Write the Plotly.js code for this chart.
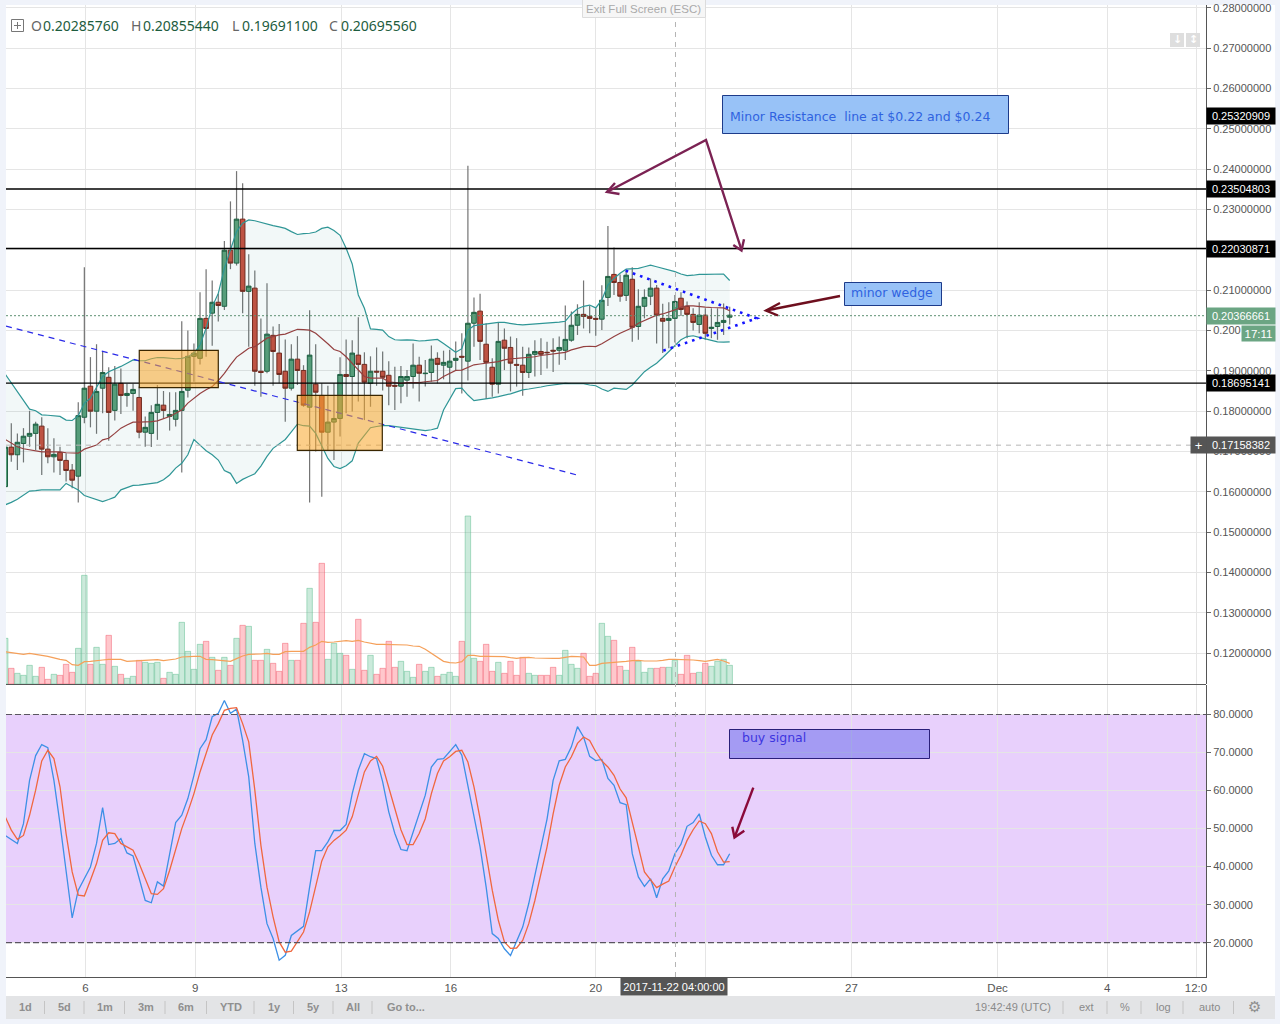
<!DOCTYPE html>
<html><head><meta charset="utf-8">
<script src="https://cdn.plot.ly/plotly-3.0.1.min.js"></script>
<style>html,body{margin:0;padding:0;background:#f0f3fa}#c{width:1280px;height:1024px}</style>
</head><body><div id="c"></div>
<script>
// Prices below are in units of 0.0001; the first bar sits at index -1 (clipped by the left edge)
const open4 = [1613,1711,1692,1720,1738,1745,1763,1706,1687,1698,1678,1654,1639,1785,1862,1800,1857,1884,1802,1869,1839,1844,1834,1748,1745,1797,1815,1787,1780,1802,1852,1936,1931,2030,2043,2070,2060,2199,2167,2276,2097,2105,1899,1899,1988,1944,1899,1857,1929,1901,1810,1867,1839,1748,1773,1782,1891,1886,1939,1916,1869,1899,1899,1889,1864,1862,1877,1886,1914,1893,1896,1931,1914,1909,1926,1936,1924,2018,2048,1966,1909,1867,1976,1958,1916,1914,1896,1941,1948,1946,1951,1951,1951,1976,2013,2040,2035,2030,2028,2082,2139,2119,2087,2127,2010,2060,2085,2105,2030,2025,2030,2080,2060,2040,2015,2038,2005,2010,2020,2033];
const high4 = [1762,1770,1745,1758,1801,1774,1785,1758,1733,1712,1696,1669,1822,2157,1934,1966,1949,1909,1912,1906,1868,1868,1861,1787,1815,1865,1850,1847,1847,2023,2000,1968,2095,2152,2124,2092,2222,2320,2395,2365,2189,2149,2030,2117,2010,2016,1978,1966,1986,1914,2050,1966,1869,1863,1869,1934,1978,1976,2033,1946,1936,1958,1948,1924,1910,1912,1902,1968,1935,1927,1963,1946,1950,1952,1973,1993,2408,2082,2091,2018,1931,2020,2005,1985,1981,1960,1958,1976,1981,1972,1981,1985,2062,2047,2065,2124,2062,2055,2112,2259,2206,2139,2150,2157,2102,2102,2129,2113,2066,2070,2088,2095,2072,2055,2070,2055,2055,2055,2067,2059];
const low4 = [1596,1675,1654,1673,1712,1704,1642,1671,1648,1642,1626,1609,1574,1770,1760,1744,1795,1727,1777,1793,1811,1801,1733,1712,1711,1729,1782,1752,1762,1648,1834,1873,1916,1935,1962,2022,2051,2152,2161,2043,1960,1863,1836,1894,1863,1869,1774,1851,1865,1811,1574,1700,1588,1704,1679,1737,1795,1799,1824,1778,1811,1863,1851,1815,1803,1820,1836,1856,1824,1861,1873,1869,1879,1869,1902,1844,1876,1960,1927,1830,1836,1844,1902,1849,1861,1838,1882,1886,1890,1906,1897,1915,1927,1972,1989,2005,1993,1987,2001,2061,2088,2071,2073,1972,1977,2030,2063,1968,1944,1956,1970,2036,1981,2000,1993,1977,1981,1977,1989,2015];
const close4 = [1711,1692,1723,1738,1745,1768,1706,1687,1693,1678,1653,1629,1789,1857,1800,1849,1896,1797,1867,1839,1844,1854,1748,1760,1797,1817,1802,1792,1802,1849,1936,1944,2030,2005,2070,2062,2199,2167,2276,2097,2110,1899,1896,1991,1948,1891,1857,1929,1901,1815,1939,1847,1748,1773,1782,1891,1886,1944,1916,1872,1899,1897,1884,1862,1862,1886,1886,1914,1894,1894,1929,1916,1921,1924,1931,1934,2018,2045,1973,1921,1867,1973,1956,1919,1914,1896,1941,1948,1941,1945,1949,1958,1978,2013,2040,2035,2030,2028,2075,2134,2119,2085,2137,2008,2060,2082,2105,2038,2023,2030,2072,2052,2040,2020,2038,1993,2008,2020,2025,2038];
const bbUpper4 = [1892,1871,1849,1826,1805,1801,1791,1790,1788,1787,1778,1777,1789,1820,1832,1859,1886,1898,1904,1911,1919,1927,1925,1925,1930,1933,1933,1931,1930,1931,1935,1944,1964,2006,2059,2092,2154,2200,2245,2266,2274,2272,2268,2263,2260,2257,2253,2245,2238,2240,2241,2244,2253,2256,2248,2236,2204,2165,2088,2055,2004,2003,2001,1985,1977,1976,1977,1976,1974,1975,1977,1978,1968,1956,1946,1955,2001,2012,2014,2015,2018,2020,2020,2017,2015,2014,2015,2017,2017,2018,2019,2021,2023,2041,2054,2060,2063,2056,2076,2113,2129,2142,2152,2153,2154,2158,2162,2158,2154,2151,2146,2140,2136,2137,2139,2139,2139,2139,2140,2124];
const bbLower4 = [1568,1574,1582,1592,1602,1603,1605,1605,1605,1605,1621,1613,1605,1591,1586,1581,1576,1581,1587,1605,1611,1616,1617,1619,1621,1623,1630,1642,1659,1671,1692,1730,1716,1702,1692,1679,1653,1646,1621,1631,1638,1645,1664,1688,1708,1719,1730,1749,1768,1764,1763,1745,1712,1683,1663,1658,1665,1677,1721,1741,1759,1762,1764,1764,1762,1759,1758,1755,1754,1752,1754,1758,1803,1828,1856,1857,1840,1826,1828,1830,1833,1836,1839,1843,1848,1853,1855,1857,1860,1863,1865,1868,1869,1868,1868,1868,1865,1863,1855,1849,1857,1856,1854,1865,1882,1898,1909,1919,1933,1948,1964,1977,1985,1987,1983,1979,1975,1972,1971,1972];
const bbBasis4 = [1730,1721,1712,1707,1704,1702,1699,1699,1699,1699,1697,1696,1696,1706,1711,1716,1729,1733,1745,1758,1766,1773,1773,1773,1774,1776,1781,1787,1795,1803,1820,1832,1844,1853,1861,1876,1894,1915,1934,1945,1956,1960,1970,1981,1985,1989,1991,1997,2003,2002,2001,1993,1981,1967,1953,1948,1935,1919,1902,1886,1882,1882,1882,1873,1871,1869,1871,1871,1871,1873,1874,1876,1886,1894,1901,1902,1909,1915,1917,1919,1920,1923,1927,1930,1931,1932,1934,1935,1938,1940,1942,1944,1946,1952,1956,1960,1961,1960,1967,1977,1985,1993,2001,2007,2018,2025,2033,2038,2041,2046,2051,2058,2061,2061,2059,2058,2057,2057,2056,2049];
const volume = [137,47,32,26,56,23,50,14,29,26,59,35,107,326,59,110,59,146,53,29,17,23,71,65,62,65,17,35,29,185,98,44,119,128,80,41,80,56,137,176,173,71,71,104,62,38,122,71,71,182,287,185,362,74,122,92,86,44,194,41,86,29,47,128,50,68,38,20,59,38,50,23,29,35,23,128,504,77,68,119,38,65,32,68,26,80,32,26,26,26,50,26,101,59,47,92,23,32,182,143,131,53,41,110,68,35,47,47,50,50,71,29,86,32,35,62,53,68,74,56];
const volumeMA = [97,94,92,89,92,90,86,83,78,74,71,58,56,67,68,71,72,74,74,74,68,69,70,71,72,73,70,73,75,81,83,83,83,74,73,71,69,68,76,84,89,89,90,92,89,89,97,98,98,98,110,117,128,125,126,128,130,128,131,126,122,119,119,119,119,119,117,114,113,104,92,82,68,64,63,67,86,86,83,83,83,83,82,79,77,79,80,78,77,77,77,77,81,83,82,81,56,56,62,63,64,65,68,70,71,69,68,69,71,74,74,74,74,72,70,68,71,74,69,62];
const stochK = [48.2,47.2,46.1,51.3,62.7,69.2,72.1,71.3,62.7,51.3,38.2,26.5,33.8,36.8,39.9,46.1,55.5,45.8,46.1,47.4,43.6,42.8,36.8,31.1,30.5,36,34.9,43.4,51.6,53.5,57.9,64,71,73.4,79.4,80.3,83.7,80.3,81.4,73.2,63.6,46.1,34.6,25,21.1,15.4,16.7,21.9,23.2,24.3,34.6,44.2,44.2,46.5,49.5,49.5,51.1,59.2,65.4,69.7,68.9,68.4,62.3,54.4,48.7,44.5,44.2,49.1,53.5,58.8,66.2,68.2,68.4,70.2,72.1,69.3,61,53.5,45.2,34.6,22.4,21.1,18.4,16.6,20.2,24.1,30.3,37.7,45.6,52.5,62.7,67.8,68.2,71.5,76.8,74.1,69,67.9,68.2,63.2,61.4,56.8,56.3,43.4,37.3,34.8,36.8,31.8,36.8,38.9,43.4,45.9,50.6,51.6,53.9,47.8,43,40.5,40.5,43.4];
const stochD = [53.1,49.6,47.2,48.2,53.5,60.1,67.8,70.6,68.4,61,48.7,38.6,32.5,32.3,36.4,40.8,46.9,48.9,48.7,46.1,45.2,44.3,40.8,36.8,32.9,32.7,34.2,39,44.3,50,54.4,59.2,64.9,69.7,74.6,77.6,81.1,81.6,81.8,77.6,72.8,60.1,45.6,34.6,26.8,20.2,17.5,17.8,20.2,22.8,28.1,34.6,41.5,45.2,46.9,48.1,49.6,53.1,59.2,64.9,67.8,69,66.4,61,55.3,49.7,45.8,45.8,48.7,52.6,59.2,64.5,67.8,68.9,70.3,70.6,67.5,61,52.6,43.4,33.8,25.9,20.2,18.5,18.6,20.6,25,31.1,38.2,45.2,53.9,61.4,66.2,68.9,72.4,74.1,73.2,70.2,67.8,66.2,64,60.4,58.1,51.3,45.2,38.6,36.4,34.5,35.4,36.2,39.9,43,46.9,49.7,52,51.3,48.7,43.9,41.2,41.3];

const priceTicks = [0.12,0.13,0.14,0.15,0.16,0.17,0.18,0.19,0.20,0.21,0.22,0.23,0.24,0.25,0.26,0.27,0.28];
const priceTickText = ['0.12000000','0.13000000','0.14000000','0.15000000','0.16000000','0.17000000','0.18000000','0.19000000','0.200','0.21000000','','0.23000000','0.24000000','0.25000000','0.26000000','0.27000000','0.28000000'];
const stochTicks = [20,30,40,50,60,70,80];
const dateTickPos = [12.2,30.2,54.2,72.2,96,114.1,138,162,180,194.6];
const dateTickText = ['6','9','13','16','20','','27','Dec','4','12:0'];
const levelLines = [0.23505,0.22031,0.18695];
const lastPrice = 0.20367, crossPrice = 0.17158, crossIndex = 109.1;

const leftTools = [['1d',25],['5d',64],['1m',105],['3m',146],['6m',186],['YTD',231],['1y',274],['5y',313],['All',353],['Go to...',406]];
const leftSeps = [44.5,84,124.5,165,206.5,254,293.5,333,372];
const rightTools = [['19:42:49 (UTC)',1013],['ext',1086],['%',1125],['log',1163],['auto',1209]];
const rightSeps = [1063,1107,1141,1183,1233.5];

const P = 1e-4;
const idx = open4.map((_,i)=>i-1);
const px = x => (x-6)/1200, py = y => (977-y)/972;
const FONT = 'Liberation Sans, Arial, sans-serif';
const GREEN='#5a9f7a', RED='#c8503f';

const isUp = open4.map((o,i)=>close4[i]>=o);
const traces = [
 {type:'bar',x:idx,base:low4.map(v=>v*P),y:high4.map((v,i)=>(v-low4[i])*P),width:0.2,marker:{color:'#757575',line:{width:0}},xaxis:'x',yaxis:'y',hoverinfo:'skip'},
 {type:'candlestick',x:idx,open:open4.map(v=>v*P),close:close4.map(v=>v*P),
   high:open4.map((v,i)=>Math.max(v,close4[i])*P),low:open4.map((v,i)=>Math.min(v,close4[i])*P),
   increasing:{line:{color:'#1f5f40',width:1},fillcolor:GREEN},decreasing:{line:{color:'#76261a',width:1},fillcolor:RED},
   whiskerwidth:0,xaxis:'x',yaxis:'y',hoverinfo:'skip'},
 {type:'scatter',mode:'lines',x:idx,y:bbLower4.map(v=>v*P),line:{color:'#2f9696',width:1.2},xaxis:'x',yaxis:'y',hoverinfo:'skip'},
 {type:'scatter',mode:'lines',x:idx,y:bbUpper4.map(v=>v*P),fill:'tonexty',fillcolor:'rgba(40,140,140,0.06)',line:{color:'#2f9696',width:1.2},xaxis:'x',yaxis:'y',hoverinfo:'skip'},
 {type:'scatter',mode:'lines',x:idx,y:bbBasis4.map(v=>v*P),line:{color:'#944040',width:1.2},xaxis:'x',yaxis:'y',hoverinfo:'skip'},
 {type:'bar',x:idx,y:volume,width:0.9,marker:{color:isUp.map(u=>u?'rgba(83,185,135,0.3)':'rgba(255,109,120,0.38)'),line:{color:isUp.map(u=>u?'rgba(83,185,135,0.45)':'rgba(240,80,100,0.45)'),width:1}},xaxis:'x',yaxis:'y2',hoverinfo:'skip'},
 {type:'scatter',mode:'lines',x:idx,y:volumeMA,line:{color:'#f5a05a',width:1.2},xaxis:'x',yaxis:'y2',hoverinfo:'skip'},
 {type:'scatter',mode:'lines',x:idx,y:stochK,line:{color:'#3d90e6',width:1.3},xaxis:'x',yaxis:'y3',hoverinfo:'skip'},
 {type:'scatter',mode:'lines',x:idx,y:stochD,line:{color:'#f0673f',width:1.3},xaxis:'x',yaxis:'y3',hoverinfo:'skip'}
];

const pRect=(x0,y0,x1,y1,fill,line,layer,w)=>({type:'rect',xref:'paper',yref:'paper',x0:px(x0),x1:px(x1),y0:py(y0),y1:py(y1),fillcolor:fill,line:{color:line||'rgba(0,0,0,0)',width:line?(w||1):0},layer:layer||'above'});
const poly=(pts,color,w,dash)=>({type:'path',xref:'paper',yref:'paper',path:'M'+pts.map(p=>px(p[0])+' '+py(p[1])).join(' L'),line:{color:color,width:w,dash:dash||'solid'},fillcolor:'rgba(0,0,0,0)',layer:'above'});

const shapes = [
 pRect(6,5,1275,996,'#ffffff',null,'below'),
 {type:'rect',xref:'paper',yref:'y3',x0:0,x1:1,y0:20,y1:80,fillcolor:'rgba(150,40,240,0.22)',line:{width:0},layer:'below'},
 {type:'line',xref:'paper',yref:'y3',x0:0,x1:1,y0:80,y1:80,line:{color:'#5a5560',width:1.2,dash:'6px,3px'},layer:'above'},
 {type:'line',xref:'paper',yref:'y3',x0:0,x1:1,y0:20,y1:20,line:{color:'#5a5560',width:1.2,dash:'6px,3px'},layer:'above'},
 {type:'line',xref:'paper',yref:'paper',x0:0,x1:1,y0:py(684.5),y1:py(684.5),line:{color:'#555',width:1.2},layer:'above'},
 ...levelLines.map(v=>({type:'line',xref:'paper',yref:'y',x0:0,x1:1,y0:v,y1:v,line:{color:'#000',width:1.4},layer:'above'})),
 {type:'line',xref:'paper',yref:'y',x0:0,x1:1,y0:lastPrice,y1:lastPrice,line:{color:'#5d8f72',width:1,dash:'2px,2px'},layer:'above'},
 {type:'line',xref:'paper',yref:'y',x0:0,x1:1,y0:crossPrice,y1:crossPrice,line:{color:'#b5b5b5',width:1,dash:'5px,5px'},layer:'above'},
 {type:'line',xref:'x',yref:'paper',x0:crossIndex,x1:crossIndex,y0:0,y1:1,line:{color:'#b5b5b5',width:1,dash:'5px,5px'},layer:'above'},
 // trend line and zones
 {type:'line',xref:'x',yref:'y',x0:-0.87,x1:92.9,y0:0.2011,y1:0.1642,line:{color:'#2a2ae8',width:1.2,dash:'6px,5px'},layer:'above'},
 {type:'rect',xref:'x',yref:'y',x0:21.02,x1:34,y0:0.18582,y1:0.19509,fillcolor:'rgba(250,165,40,0.55)',line:{color:'#3a2600',width:1.2},layer:'above'},
 {type:'rect',xref:'x',yref:'y',x0:46.98,x1:60.94,y0:0.17031,y1:0.18394,fillcolor:'rgba(250,165,40,0.55)',line:{color:'#3a2600',width:1.2},layer:'above'},
 // wedge (dotted)
 poly([[625.7,270.7],[756.7,318.3],[663.3,350.7]],'#1414ff',2.6,'2.6px,5px'),
 // arrows
 poly([[607,192],[706,140],[741.5,250]],'#7b2253',2.4),
 poly([[615,183],[607,192],[619.5,194]],'#7b2253',2.4),
 poly([[733.3,245],[741.5,250.5],[744,239.3]],'#7b2253',2.4),
 poly([[840,296],[766,310.5]],'#6e0f1e',2.4),
 poly([[780,303],[766,310.5],[778,315.5]],'#6e0f1e',2.4),
 poly([[753.3,787.7],[734.5,837.5]],'#8a0a3a',2.4),
 poly([[732.3,826.7],[734.5,837.5],[744.3,830.7]],'#8a0a3a',2.4),
 // note boxes
 pRect(722.5,95.5,1008.5,133.5,'#98c2f7','#1d3b8a'),
 pRect(844.5,282.5,941.5,305.5,'#98c2f7','#1d3b8a'),
 pRect(729.5,729.5,929.5,758.5,'rgba(70,80,230,0.42)','#2a1f7a'),
 // header icon
 pRect(11.5,19.5,23.5,31.5,'rgba(0,0,0,0)','#777'),
 poly([[14,25.5],[21,25.5]],'#777',1), poly([[17.5,22],[17.5,29]],'#777',1),
 // scale icons
 pRect(1170,33,1184,47,'#dedede'), pRect(1186,33,1200,47,'#dedede'),
 // exit banner
 pRect(582.5,-2,705.5,17.5,'#f6f6f6','#dcdcdc'),
 // toolbar
 pRect(6,996,1275,1019,'#e3e4e6'),
 ...leftSeps.concat(rightSeps).map(x=>poly([[x,1001],[x,1014]],'#c4c4c4',1))
];

const note=(text,x,y,opt)=>Object.assign({xref:'paper',yref:'paper',x:px(x),y:py(y),text,showarrow:false,xanchor:'left',yanchor:'middle',borderpad:0,font:{family:FONT,size:11,color:'#555'}},opt||{});
const tag=(text,y,bg)=>note(text,1206,y,{width:68,height:16,bgcolor:bg,align:'center',font:{family:FONT,size:11,color:'#fff'}});
const HF='Noto Sans, sans-serif';
const hdr=(lab,val,x,vx)=>[note(lab,x,26,{font:{family:HF,size:14,color:'#666'}}),note(val,vx,26,{font:{family:HF,size:14,color:'#1d5c3e'}})];
const annotations=[
 ...hdr('O','0.20285760',30,41.5),...hdr('H','0.20855440',130,142),...hdr('L','0.19691100',230.5,240.5),...hdr('C','0.20695560',328,339.5),
 note('Exit Full Screen (ESC)',643.5,9,{xanchor:'center',font:{family:FONT,size:11.5,color:'#aaa'}}),
 note('<b>↓</b>',1177,40,{xanchor:'center',font:{family:'DejaVu Sans',size:11,color:'#fff'}}),
 note('<b>↕</b>',1193,40,{xanchor:'center',font:{family:'DejaVu Sans',size:11,color:'#fff'}}),
 note('Minor Resistance  line at $0.22 and $0.24',729,116.5,{font:{family:'DejaVu Sans',size:12.5,color:'#2f62e0'}}),
 note('minor wedge',850,292.5,{font:{family:'DejaVu Sans',size:12.5,color:'#2f62e0'}}),
 note('buy signal',741,737,{font:{family:'DejaVu Sans',size:12.5,color:'#3d35e0'}}),
 tag('0.25320909',116,'#000'),tag('0.23504803',189,'#000'),tag('0.22030871',249,'#000'),tag('0.18695141',383,'#000'),
 tag('0.20366661',316,'#6ba583'),tag('0.17158382',445,'#555'),
 note('17:11',1241,333.5,{width:33,height:15,bgcolor:'#6ba583',align:'center',font:{family:FONT,size:11.5,color:'#fff'}}),
 note('+',1190,445,{width:15,height:16,bgcolor:'#555',align:'center',font:{family:FONT,size:13,color:'#fff'}}),
 note('2017-11-22 04:00:00',620,986.5,{width:106,height:17,bgcolor:'#555',align:'center',font:{family:FONT,size:11,color:'#fff'}}),
 ...leftTools.map(t=>note('<b>'+t[0]+'</b>',t[1],1007,{xanchor:'center',font:{family:FONT,size:11,color:'#8f8f8f'}})),
 ...rightTools.map(t=>note(t[0],t[1],1007,{xanchor:'center',font:{family:FONT,size:11,color:'#8a8a8a'}})),
 note('⚙',1254,1007,{xanchor:'center',font:{family:'DejaVu Sans',size:15,color:'#8f8f8f'}})
];

const axisY={side:'right',showline:true,linecolor:'#555',linewidth:1,ticks:'outside',ticklen:4,tickcolor:'#666',
  gridcolor:'#e5e5e5',gridwidth:1,zeroline:false,tickfont:{family:FONT,size:11,color:'#555'},fixedrange:true};
const layout={
 width:1280,height:1024,paper_bgcolor:'#f0f3fa',plot_bgcolor:'#ffffff',showlegend:false,hovermode:false,barmode:'overlay',
 boxgap:0.13,boxgroupgap:0.13,
 margin:{l:6,r:74,t:5,b:47,pad:0},
 xaxis:{domain:[0,1],range:[-0.87,196.24],anchor:'y3',tickmode:'array',tickvals:dateTickPos,ticktext:dateTickText,
   showline:true,linecolor:'#555',linewidth:1,showgrid:true,gridcolor:'#e5e5e5',zeroline:false,ticks:'',
   tickfont:{family:FONT,size:11.5,color:'#555'},rangeslider:{visible:false},fixedrange:true},
 yaxis:Object.assign({},axisY,{domain:[(977-684)/972,1],range:[0.11239,0.28067],anchor:'x',tickmode:'array',tickvals:priceTicks,ticktext:priceTickText}),
 yaxis2:{overlaying:'y',side:'left',range:[0,2037],visible:false,fixedrange:true},
 yaxis3:Object.assign({},axisY,{domain:[0,(977-685)/972],range:[10.98,87.76],anchor:'x',tickmode:'array',tickvals:stochTicks,ticktext:stochTicks.map(v=>v.toFixed(4))}),
 shapes,annotations
};
Plotly.newPlot('c',traces,layout,{staticPlot:true,displayModeBar:false});
</script></body></html>
